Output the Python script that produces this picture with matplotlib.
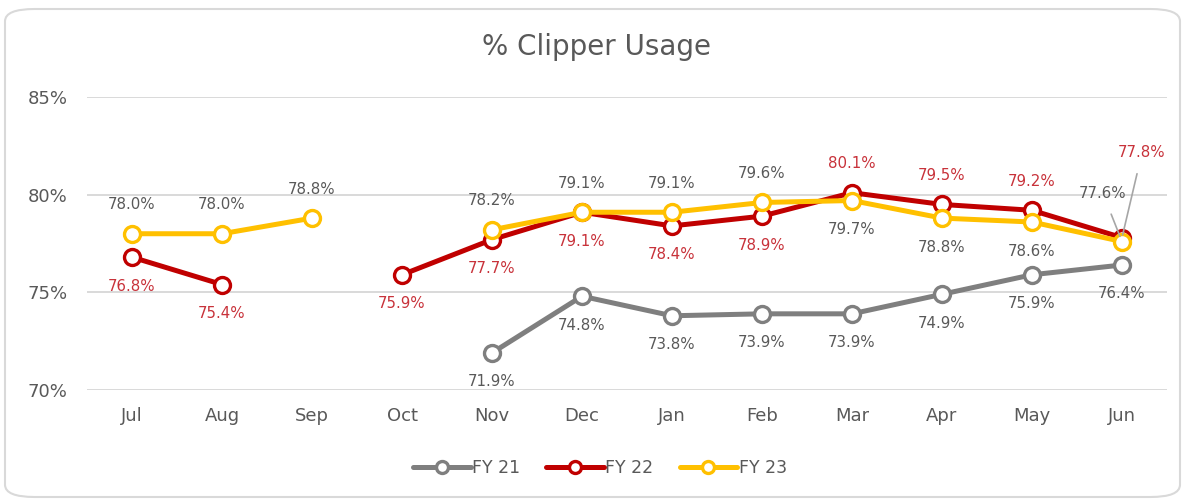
import numpy as np
import matplotlib
matplotlib.use("Agg")
import matplotlib.pyplot as plt
from matplotlib.patches import FancyBboxPatch

nan = np.nan

months = ["Jul", "Aug", "Sep", "Oct", "Nov", "Dec", "Jan", "Feb", "Mar", "Apr", "May", "Jun"]
fy21 = [nan, nan, nan, nan, 71.9, 74.8, 73.8, 73.9, 73.9, 74.9, 75.9, 76.4]
fy22 = [76.8, 75.4, nan, 75.9, 77.7, 79.1, 78.4, 78.9, 80.1, 79.5, 79.2, 77.8]
fy23 = [78.0, 78.0, 78.8, nan, 78.2, 79.1, 79.1, 79.6, 79.7, 78.8, 78.6, 77.6]

# label placement: +1 above, -1 below, 0 = handled with leader line
pos21 = [-1] * 12
pos22 = [-1, -1, -1, -1, -1, -1, -1, -1, 1, 1, 1, 0]
pos23 = [1, 1, 1, 1, 1, 1, 1, 1, -1, -1, -1, 0]

txt = "#595959"
c21, c22, c23 = "#7F7F7F", "#C00000", "#FFC000"
red_lbl = "#C8323A"

plt.rcParams["font.family"] = "DejaVu Sans"

fig = plt.figure(figsize=(11.86, 5.03), dpi=100)
fig.patches.append(FancyBboxPatch((5 / 1186, 6 / 503), 1175 / 1186, 488 / 503,
                                  boxstyle="round,pad=0,rounding_size=0.025",
                                  transform=fig.transFigure, facecolor="white",
                                  edgecolor="#D9D9D9", linewidth=1.5, zorder=-1,
                                  mutation_aspect=503 / 1186 * 2.3))

ax = fig.add_axes([87 / 1186, 113 / 503, 1080 / 1186, 293 / 503])
x = np.arange(len(months))

series = [("FY 21", fy21, c21, pos21, txt),
          ("FY 22", fy22, c22, pos22, red_lbl),
          ("FY 23", fy23, c23, pos23, txt)]

for name, vals, col, pos, lc in series:
    ax.plot(x, vals, color=col, lw=3.6, marker="o", ms=11.5, mfc="white",
            mec=col, mew=2.4, label=name, solid_capstyle="round", zorder=3)
    for i, v in enumerate(vals):
        if np.isnan(v) or pos[i] == 0:
            continue
        ax.annotate(f"{v:.1f}%", (x[i], v), xytext=(0, 29 * pos[i]),
                    textcoords="offset pixels", ha="center", va="center",
                    fontsize=10.8, color=lc, zorder=5)

# Jun labels with leader lines
ax.annotate(f"{fy23[11]:.1f}%", (x[11], fy23[11]), xytext=(-19, 48),
            textcoords="offset pixels", ha="center", va="center",
            fontsize=10.8, color=txt,
            arrowprops=dict(arrowstyle="-", color="#A6A6A6", lw=1.2,
                            shrinkA=8, shrinkB=4), zorder=5)
ax.annotate(f"{fy22[11]:.1f}%", (x[11], fy22[11]), xytext=(20, 85),
            textcoords="offset pixels", ha="center", va="center",
            fontsize=10.8, color=red_lbl,
            arrowprops=dict(arrowstyle="-", color="#A6A6A6", lw=1.2,
                            shrinkA=8, shrinkB=2), zorder=5)

ax.set_xlim(-0.5, len(months) - 0.5)
ax.set_ylim(70, 85)
ax.set_yticks([70, 75, 80, 85])
ax.set_yticklabels(["70%", "75%", "80%", "85%"])
ax.set_xticks(x)
ax.set_xticklabels(months)
ax.grid(axis="y", color="#D9D9D9", lw=1.4, zorder=0)
ax.set_axisbelow(True)
for s in ax.spines.values():
    s.set_visible(False)
ax.tick_params(axis="both", length=0, colors=txt, labelsize=13)
ax.tick_params(axis="y", pad=14)
ax.tick_params(axis="x", pad=12)

fig.text(0.503, 1 - 47 / 503, "% Clipper Usage", ha="center", va="center",
         fontsize=20, color=txt)

leg = ax.legend(loc="center", bbox_to_anchor=(0.475, -0.265), ncol=3, frameon=False,
                fontsize=12.5, handlelength=3.3, columnspacing=1.5, handletextpad=0.1,
                markerscale=0.75, labelcolor=txt)

fig.savefig("out.png", dpi=100)
